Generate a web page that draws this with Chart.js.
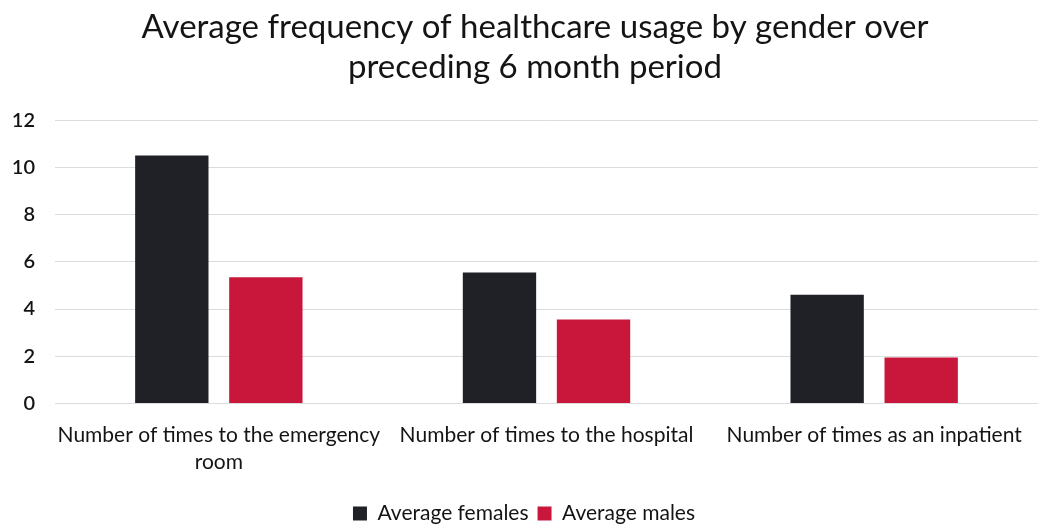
<!DOCTYPE html>
<html>
<head>
<meta charset="utf-8">
<script src="https://cdn.jsdelivr.net/npm/chart.js@4.4.3/dist/chart.umd.min.js"></script>
<style>
  html, body { margin: 0; padding: 0; background: #fff; }
  #wrap { width: 1038px; height: 525px; }
</style>
</head>
<body>
<div id="wrap"><canvas id="usageChart" width="1038" height="525"></canvas></div>
<script>
/* Healthcare usage by gender — grouped bars */
const categories = [
  ['Number of times to the emergency', 'room'],
  'Number of times to the hospital',
  'Number of times as an inpatient'
];
const seriesNames = ['Average females', 'Average males'];
const femaleValues = [10.5, 5.55, 4.6];
const maleValues   = [5.35, 3.55, 1.95];
const yTicks = [0, 2, 4, 6, 8, 10, 12];

const FONT = 'Lato, "Open Sans", sans-serif';
const TEXT = '#141414';

// nudge the title a little to the right of the canvas centre
const titleShift = {
  id: 'titleShift',
  afterLayout(chart) {
    const t = chart.titleBlock;
    if (t) { t.left += 11; t.right += 11; }
  }
};

new Chart(document.getElementById('usageChart'), {
  type: 'bar',
  data: {
    labels: categories,
    datasets: [
      { label: seriesNames[0], data: femaleValues, backgroundColor: '#1f2126' },
      { label: seriesNames[1], data: maleValues,   backgroundColor: '#c8173b' }
    ]
  },
  options: {
    responsive: false,
    animation: false,
    layout: { padding: { left: 10, right: 0, top: 8, bottom: -9 } },
    datasets: { bar: { categoryPercentage: 0.574, barPercentage: 0.78 } },
    plugins: {
      title: {
        display: true,
        text: ['Average frequency of healthcare usage by gender over', 'preceding 6 month period'],
        color: TEXT,
        font: { family: FONT, size: 33, weight: 'normal' },
        lineHeight: 1.35,
        padding: { top: 0, bottom: 33 }
      },
      legend: {
        position: 'bottom',
        labels: {
          color: TEXT,
          font: { family: FONT, size: 21 },
          boxWidth: 14, boxHeight: 14, padding: 9
        }
      },
      tooltip: { enabled: false }
    },
    scales: {
      x: {
        grid: { display: false, drawTicks: false },
        border: { display: false },
        // long category labels may overhang the plot edges
        afterFit: s => { s.paddingLeft = 0; s.paddingRight = 0; },
        ticks: {
          color: TEXT, font: { family: FONT, size: 21, lineHeight: 1.3 },
          maxRotation: 0, autoSkip: false, padding: 18
        }
      },
      y: {
        min: 0, max: 12,
        afterBuildTicks: axis => { axis.ticks = yTicks.map(v => ({ value: v })); },
        afterFit: axis => { axis.width = 45; },
        grid: { color: '#dcdcdc', drawTicks: false },
        border: { display: false },
        ticks: { color: TEXT, font: { family: FONT, size: 20, weight: '600' }, padding: 20 }
      }
    }
  },
  plugins: [titleShift]
});
</script>
</body>
</html>
